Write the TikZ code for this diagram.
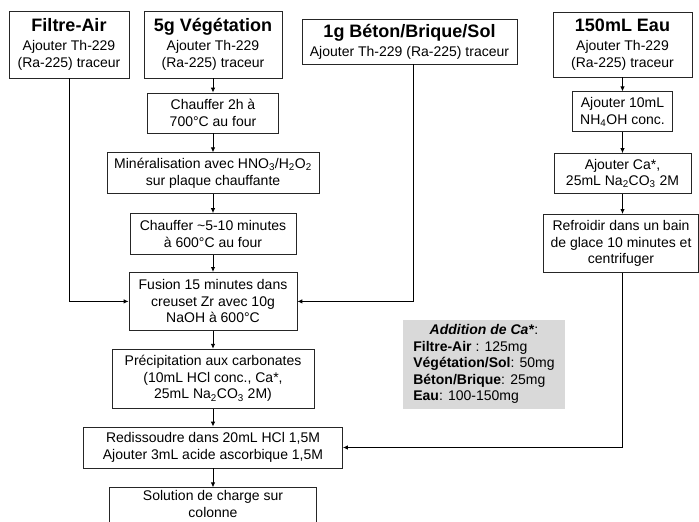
\documentclass[tikz,border=0pt]{standalone}
\usepackage{fontspec}
\setmainfont{Liberation Sans}
\usepackage{tikz}
\usetikzlibrary{positioning,calc,arrows.meta}

\newcommand{\titre}[1]{{\fontsize{18}{20}\selectfont\bfseries #1}}

\begin{document}
\begin{tikzpicture}[x=1pt,y=-1pt,
		etape/.style={draw=black!85,line width=0.8pt,align=center,inner sep=0pt,font=\fontsize{14}{16.5}\selectfont},
		fleche/.style={draw=black,line width=0.9pt,-{Latex[length=5pt,width=4.5pt]}}]
		\useasboundingbox (0,0) rectangle (699,522);
		\clip (0,0) rectangle (699,522);
		\node[etape,minimum width=120pt,minimum height=67pt] (air) at (69,44.5) {\titre{Filtre-Air}\\[2.5pt]Ajouter Th-229\\(Ra-225) traceur};
		\node[etape,minimum width=138pt,minimum height=67pt] (veg) at (213,44.5) {\titre{5g Végétation}\\[2.5pt]Ajouter Th-229\\(Ra-225) traceur};
		\node[etape,minimum width=215pt,minimum height=45pt] (beton) at (409.5,41.5) {\titre{1g Béton/Brique/Sol}\\[2.5pt]Ajouter Th-229 (Ra-225) traceur};
		\node[etape,minimum width=139pt,minimum height=65pt] (eau) at (622.5,44.5) {\titre{150mL Eau}\\[2.5pt]Ajouter Th-229\\(Ra-225) traceur};

		\node[etape,minimum width=131pt,minimum height=40pt] (chauffA) at (213,113) {Chauffer 2h à\\700°C au four};
		\node[etape,minimum width=212pt,minimum height=41pt,below=19pt of chauffA] (miner) {Minéralisation avec HNO\textsubscript{3}/H\textsubscript{2}O\textsubscript{2}\\sur plaque chauffante};
		\node[etape,minimum width=166pt,minimum height=41pt,below=19pt of miner] (chauffB) {Chauffer \textasciitilde5-10 minutes\\à 600°C au four};
		\node[etape,minimum width=168pt,minimum height=58pt,below=17pt of chauffB] (fusion) {Fusion 15 minutes dans\\creuset Zr avec 10g\\NaOH à 600°C};
		\node[etape,minimum width=202pt,minimum height=59pt,below=18pt of fusion] (precip) {Précipitation aux carbonates\\(10mL HCl conc., Ca*,\\25mL Na\textsubscript{2}CO\textsubscript{3} 2M)};
		\node[etape,minimum width=259pt,minimum height=41pt,below=18pt of precip] (redis) {Redissoudre dans 20mL HCl 1,5M\\Ajouter 3mL acide ascorbique 1,5M};
		\node[etape,minimum width=207pt,minimum height=41pt,text depth=9pt,below=19pt of redis] (solution) {Solution de charge sur\\colonne};

		\node[etape,minimum width=100pt,minimum height=40pt,below=14pt of eau] (nh4) {Ajouter 10mL\\NH\textsubscript{4}OH conc.};
		\node[etape,minimum width=137pt,minimum height=40pt,below=21pt of nh4] (ca) {Ajouter Ca*,\\25mL Na\textsubscript{2}CO\textsubscript{3} 2M};
		\node[etape,minimum width=155pt,minimum height=58pt,below=20pt of ca,xshift=-1.5pt] (refroidir) {Refroidir dans un bain\\de glace 10 minutes et\\centrifuger};

		\node[fill=black!15,inner sep=0pt,minimum width=162pt,minimum height=89pt,font=\fontsize{14}{16.5}\selectfont] (ajoutCa) at (484,364.5) {\begin{tabular}{@{}l@{}}
				\multicolumn{1}{@{}c@{}}{\textbf{\textit{Addition de Ca*}}:}\\
				\textbf{Filtre-Air} : 125mg\\
				\textbf{Végétation/Sol}: 50mg\\
				\textbf{Béton/Brique}: 25mg\\
				\textbf{Eau}: 100-150mg
			\end{tabular}};

		\draw[fleche] (veg.south) -- (chauffA.north);
		\draw[fleche] (chauffA.south) -- (miner.north);
		\draw[fleche] (miner.south) -- (chauffB.north);
		\draw[fleche] (chauffB.south) -- (fusion.north);
		\draw[fleche] (fusion.south) -- (precip.north);
		\draw[fleche] (precip.south) -- (redis.north);
		\draw[fleche] (redis.south) -- (solution.north);
		\draw[fleche] (eau.south) -- (nh4.north);
		\draw[fleche] (nh4.south) -- (ca.north);
		\draw[fleche] (ca.south) -- (ca.south |- refroidir.north);
		\draw[fleche] (air.south) |- (fusion.west);
		\draw[fleche] ([xshift=3.5pt]beton.south) |- (fusion.east);
		\draw[fleche] ([xshift=1.5pt]refroidir.south) |- (redis.east);
	\end{tikzpicture}
\end{document}
